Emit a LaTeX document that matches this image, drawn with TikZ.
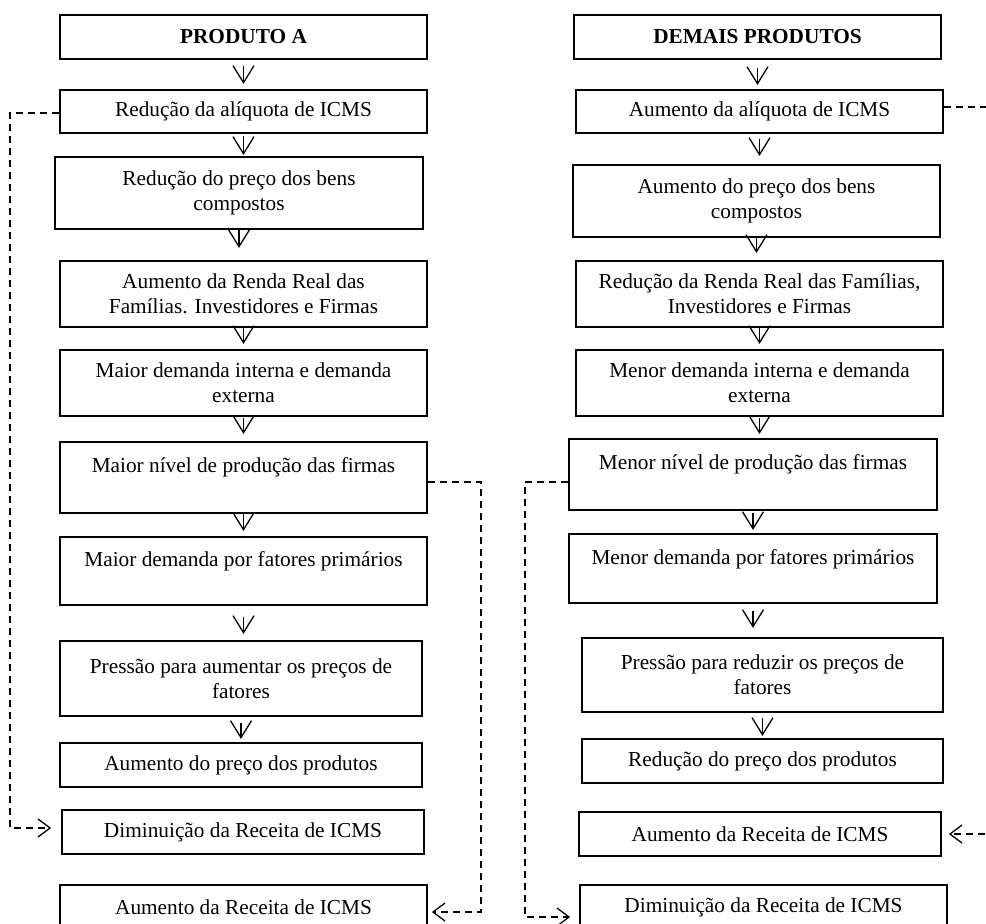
\documentclass[tikz,border=0pt]{standalone}
\usepackage{fontspec}
\setmainfont{Liberation Serif}
\usetikzlibrary{arrows.meta,calc}
\begin{document}
\begin{tikzpicture}[x=1pt,y=1pt,
  box/.style={draw, line width=1.8pt, align=center, inner sep=0pt, font=\fontsize{21.3}{25}\selectfont},
  lbl/.style={inner sep=0pt, anchor=base, font=\fontsize{21.3}{25}\selectfont},
  flow/.style={line width=1.3pt, -{Straight Barb[length=17pt,width=21pt,line width=1.3pt]}},
  fb/.style={line width=1.3pt, dash pattern=on 7pt off 5pt, -{Straight Barb[length=12pt,width=18pt,line width=1.3pt]}}]
\useasboundingbox (0,0) rectangle (986,-924);
% left column
\node[box, minimum width=367pt, minimum height=44pt] (L0) at (243.5,-37) {\textbf{PRODUTO A}};
\node[box, minimum width=367pt, minimum height=43pt] (L1) at (243.5,-111.5) {Redução da alíquota de ICMS};
\node[box, minimum width=368pt, minimum height=72pt] (L2) at (239,-193) {Redução do preço dos bens\\compostos};
\node[box, minimum width=367pt, minimum height=66pt] (L3) at (243.5,-294) {Aumento da Renda Real das\\Famílias. Investidores e Firmas};
\node[box, minimum width=367pt, minimum height=66pt] (L4) at (243.5,-383) {Maior demanda interna e demanda\\externa};
\node[box, minimum width=367pt, minimum height=71pt] (L5) at (243.5,-477.5) {};
\node[lbl] (L5t) at ([yshift=-31pt]L5.north) {Maior nível de produção das firmas};
\node[box, minimum width=367pt, minimum height=68pt] (L6) at (243.5,-571) {};
\node[lbl] (L6t) at ([yshift=-30pt]L6.north) {Maior demanda por fatores primários};
\node[box, minimum width=362pt, minimum height=75pt] (L7) at (241,-678.5) {Pressão para aumentar os preços de\\fatores};
\node[box, minimum width=362pt, minimum height=44pt] (L8) at (241,-765) {Aumento do preço dos produtos};
\node[box, minimum width=362pt, minimum height=44pt] (L9) at (243,-832) {Diminuição da Receita de ICMS};
\node[box, minimum width=367pt, minimum height=44pt] (L10) at (243.5,-907) {Aumento da Receita de ICMS};
% right column
\node[box, minimum width=367pt, minimum height=44pt] (R0) at (757.5,-37) {\textbf{DEMAIS PRODUTOS}};
\node[box, minimum width=367pt, minimum height=43pt] (R1) at (759.5,-111.5) {Aumento da alíquota de ICMS};
\node[box, minimum width=367pt, minimum height=72pt] (R2) at (756.5,-201) {Aumento do preço dos bens\\compostos};
\node[box, minimum width=367pt, minimum height=66pt] (R3) at (759.5,-294) {Redução da Renda Real das Famílias,\\Investidores e Firmas};
\node[box, minimum width=367pt, minimum height=66pt] (R4) at (759.5,-383) {Menor demanda interna e demanda\\externa};
\node[box, minimum width=368pt, minimum height=71pt] (R5) at (753,-474.5) {};
\node[lbl] (R5t) at ([yshift=-31pt]R5.north) {Menor nível de produção das firmas};
\node[box, minimum width=368pt, minimum height=69pt] (R6) at (753,-568.5) {};
\node[lbl] (R6t) at ([yshift=-31pt]R6.north) {Menor demanda por fatores primários};
\node[box, minimum width=361pt, minimum height=74pt] (R7) at (762.5,-675) {Pressão para reduzir os preços de\\fatores};
\node[box, minimum width=361pt, minimum height=44pt] (R8) at (762.5,-761) {Redução do preço dos produtos};
\node[box, minimum width=362pt, minimum height=44pt] (R9) at (760,-834) {Aumento da Receita de ICMS};
\node[box, minimum width=367pt, minimum height=44pt] (R10) at (763.5,-907) {Diminuição da Receita de ICMS};
% vertical arrows left
\draw[flow] ([yshift=-6pt]L0.south) -- ++(0,-18pt);
\draw[flow] ([yshift=-2pt]L1.south) -- ++(0,-19pt);
\draw[flow] (L2.south) -- ++(0,-18pt);
\draw[flow] (L3.south) -- ++(0,-16pt);
\draw[flow] ([yshift=-1pt]L4.south) -- ++(0,-16pt);
\draw[flow] (L5.south) -- ++(0,-17pt);
\draw[flow] ([yshift=-11pt]L6.south) -- ++(0,-17pt);
\draw[flow] ([yshift=-6pt]L7.south) -- ++(0,-16pt);
% vertical arrows right
\draw[flow] ([yshift=-8pt]R0.south) -- ++(0,-17pt);
\draw[flow] ([yshift=-5pt]R1.south) -- ++(0,-17pt);
\draw[flow] (R2.south) -- ++(0,-15pt);
\draw[flow] (R3.south) -- ++(0,-16pt);
\draw[flow] ([yshift=-1pt]R4.south) -- ++(0,-16pt);
\draw[flow] ([yshift=-2pt]R5.south) -- ++(0,-17pt);
\draw[flow] ([yshift=-7pt]R6.south) -- ++(0,-17pt);
\draw[flow] ([yshift=-5pt]R7.south) -- ++(0,-18pt);
% feedback dashed connectors
\draw[fb] ([yshift=-1.5pt]L1.west) -- ++(-49pt,0) |- ([xshift=-10pt,yshift=4pt]L9.west);
\draw[fb] ([yshift=-4.5pt]L5.east) -- ++(53pt,0) |- ([xshift=4pt,yshift=-5pt]L10.east);
\draw[fb] ([yshift=-7.5pt]R5.west) -- ++(-43pt,0) |- ([xshift=-9pt,yshift=-10pt]R10.west);
\draw[fb] ([yshift=4.5pt]R1.east) -- ++(47pt,0) |- ([xshift=7pt]R9.east);
\end{tikzpicture}
\end{document}
